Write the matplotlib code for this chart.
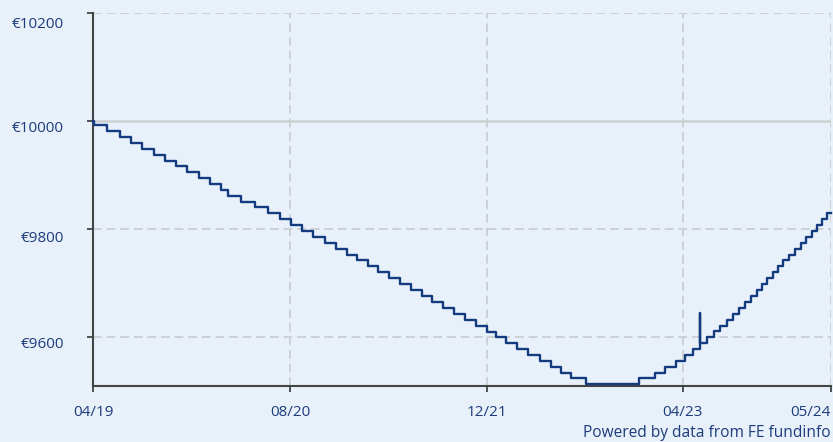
import pandas as pd
import matplotlib
matplotlib.use('Agg')
import matplotlib.pyplot as plt
import matplotlib.transforms as mtransforms

# growth of 10000 EUR, step changes (days counted from the start date)
start_date = pd.Timestamp('2019-04-30')
end_date = pd.Timestamp('2024-05-01')

days = [0, 3, 35, 66, 95, 122, 150, 178, 206, 234, 262, 289, 318, 334, 366, 401,
        433, 462, 490, 517, 546, 575, 602, 628, 653, 680, 707, 733, 760, 788, 814,
        839, 868, 895, 921, 948, 975, 998, 1023, 1050, 1078, 1107, 1134, 1158, 1183,
        1221, 1353, 1393, 1418, 1445, 1466, 1486, 1503, 1504, 1521, 1538, 1554, 1570,
        1585, 1600, 1615, 1629, 1644, 1656, 1670, 1684, 1697, 1710, 1725, 1739, 1753,
        1766, 1780, 1794, 1806, 1819, 1828]
values = [10000, 9993, 9982, 9971, 9960, 9949, 9938, 9927, 9916, 9905, 9895, 9884,
          9873, 9862, 9851, 9840, 9829, 9818, 9807, 9796, 9785, 9774, 9763, 9752,
          9742, 9731, 9720, 9709, 9698, 9687, 9676, 9665, 9654, 9643, 9632, 9621,
          9610, 9599, 9589, 9578, 9567, 9556, 9545, 9534, 9523, 9512, 9523, 9534,
          9545, 9556, 9567, 9578, 9645, 9589, 9600, 9611, 9621, 9632, 9643, 9654,
          9665, 9676, 9687, 9698, 9709, 9720, 9731, 9742, 9752, 9763, 9774, 9785,
          9796, 9807, 9818, 9829, 9829]

tick_dates = ['2019-04-30', '2020-08-30', '2021-12-30', '2023-04-30', '2024-05-01']
tick_labels = ['04/19', '08/20', '12/21', '04/23', '05/24']
y_ticks = [9600, 9800, 10000, 10200]
y_labels = ['€9600', '€9800', '€10000', '€10200']

bg = '#e8f1f9'
navy = '#1d3c7c'
line_col = '#143a80'
axis_col = '#444444'
grid_col = '#cdd0d3'

plt.rcParams['font.family'] = ['Open Sans', 'DejaVu Sans']

dates = start_date + pd.to_timedelta(days, unit='D')

fig = plt.figure(figsize=(8.33, 4.42), dpi=100, facecolor=bg)
ax = fig.add_axes([93 / 833, 56.5 / 442, 738 / 833, 372.2 / 442])
ax.set_facecolor(bg)

ax.step(dates, values, where='post', color=line_col, lw=1.7, zorder=3, clip_on=False)

ax.set_xlim(start_date, end_date)
ax.set_ylim(9510, 10200)

ax.set_xticks(pd.to_datetime(tick_dates))
ax.set_xticklabels(tick_labels)
ax.set_yticks(y_ticks)
ax.set_yticklabels(y_labels)

ax.grid(True, color=grid_col, lw=1.4, linestyle=(0, (4.5, 2.5)), zorder=0)
# the 10000 line is drawn solid
for val, gl in zip(y_ticks, ax.get_ygridlines()):
    if val == 10000:
        gl.set_linestyle('-')
        gl.set_linewidth(1.8)
ax.get_xgridlines()[0].set_visible(False)

for s in ['top', 'right']:
    ax.spines[s].set_visible(False)
for s in ['left', 'bottom']:
    ax.spines[s].set_color(axis_col)
    ax.spines[s].set_linewidth(1.5)

ax.tick_params(axis='both', direction='out', length=4, width=1.3, color=axis_col,
               labelcolor=navy, labelsize=11)
ax.tick_params(axis='y', pad=17)
ax.tick_params(axis='x', pad=10)

# labels sit a little below their grid lines
y_shift = [6, 7, 5, 9]
for lab, dy in zip(ax.get_yticklabels(), y_shift):
    off = mtransforms.ScaledTranslation(0, -dy / 100, fig.dpi_scale_trans)
    lab.set_transform(lab.get_transform() + off)
ax.get_xticklabels()[-1].set_ha('right')

fig.text(831 / 833, 9 / 442, 'Powered by data from FE fundinfo', ha='right',
         va='center', color=navy, fontsize=11.2)

fig.savefig('out.png', dpi=100, facecolor=bg)
